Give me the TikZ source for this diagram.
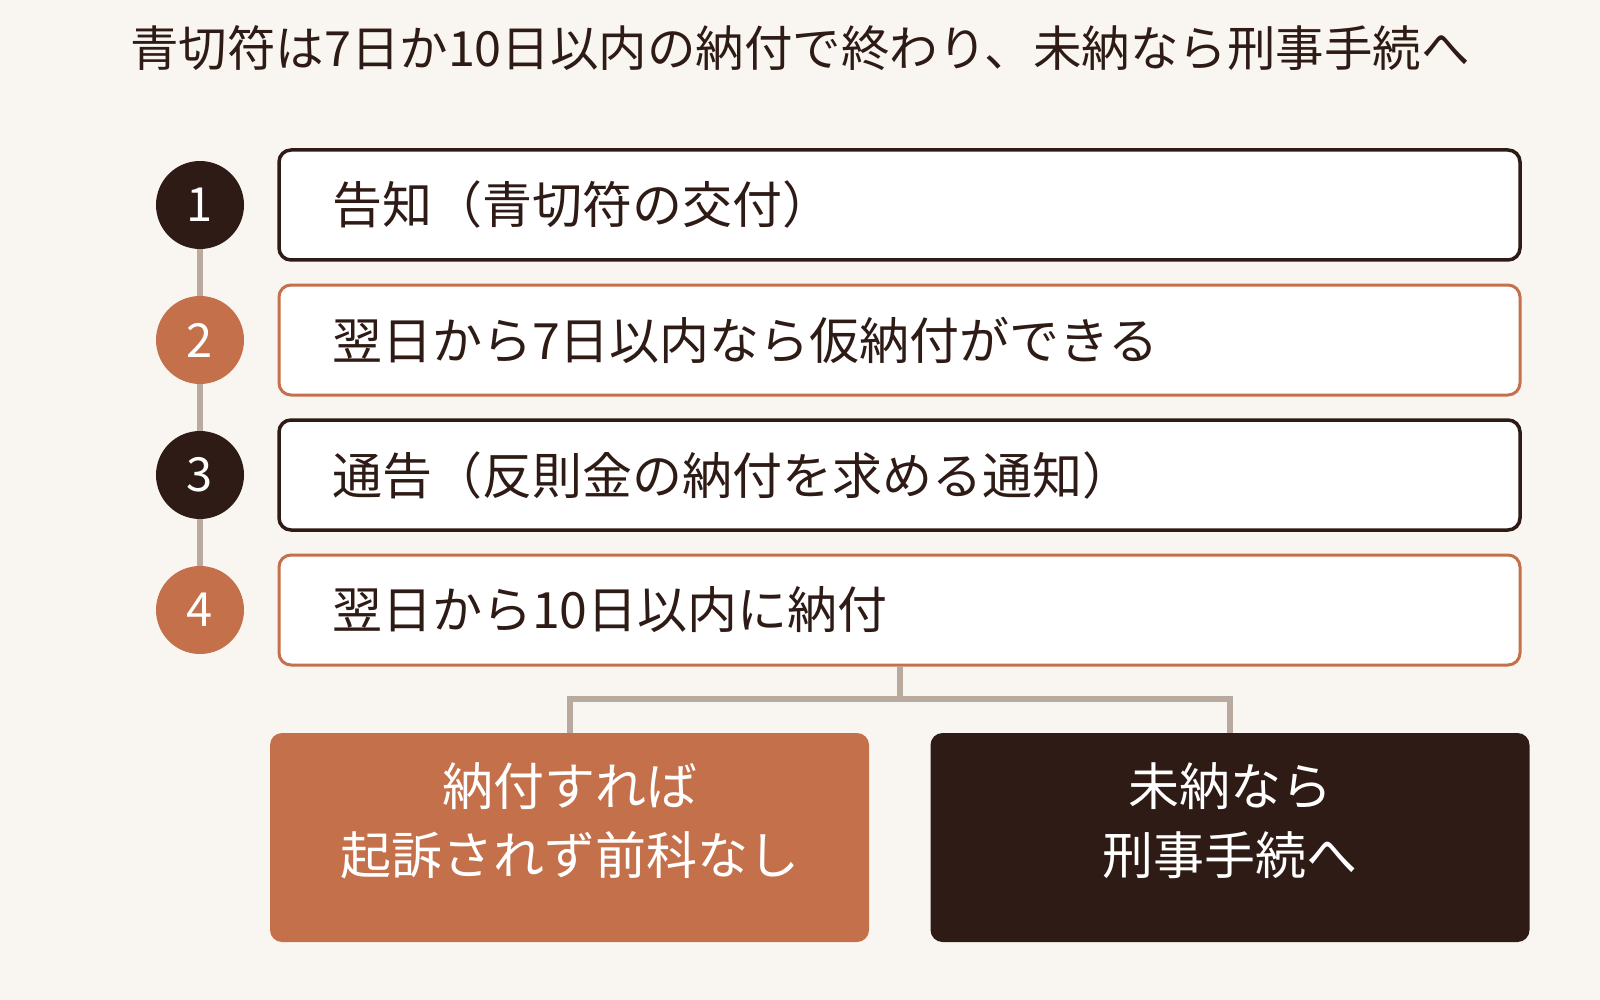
\documentclass[tikz,border=0pt]{standalone}
\usepackage{fontspec}
\setmainfont{Noto Sans CJK JP}
\usepackage{tikz}
\definecolor{bgcream}{HTML}{F9F6F1}
\definecolor{inkdark}{HTML}{2E1B15}
\definecolor{clay}{HTML}{C4704A}
\definecolor{linkgray}{HTML}{B8AA9F}
\tikzset{%
  stepbox/.style    = {shape=rectangle, rounded corners=12pt, draw, fill=white,%
                       line width=3.5pt, minimum width=1241pt, minimum height=110pt,%
                       inner xsep=0pt, text width=1135pt, align=left,%
                       text=inkdark, font=\fontsize{50}{58}\selectfont},%
  darkstep/.style   = {stepbox, draw=inkdark},%
  claystep/.style   = {stepbox, draw=clay, line width=3pt},%
  numdot/.style     = {circle, minimum size=88pt, inner sep=0pt, text=white,%
                       font=\fontsize{47}{50}\selectfont},%
  resultbox/.style  = {shape=rectangle, rounded corners=12pt, minimum width=599pt,%
                       minimum height=209pt},%
  resulttext/.style = {align=center, text=white, inner sep=0pt,%
                       font=\fontsize{51}{69}\selectfont},%
  link/.style       = {draw=linkgray, line width=6pt}%
}
\begin{document}
\begin{tikzpicture}
  [x=1pt,y=-1pt]
  \fill[bgcream] (0,0) rectangle (1600,1000);
  \useasboundingbox (0,0) rectangle (1600,1000);
  \node (title) [text=inkdark, font=\fontsize{48.5}{56}\selectfont] at (800,48)
    {青切符は7日か10日以内の納付で終わり、未納なら刑事手続へ};
  % steps
  \node (n1) [numdot, fill=inkdark] at (200,205) {1};
  \node (n2) [numdot, fill=clay]    at (200,340) {2};
  \node (n3) [numdot, fill=inkdark] at (200,475) {3};
  \node (n4) [numdot, fill=clay]    at (200,610) {4};
  \draw [link] (n1) -- (n2);
  \draw [link] (n2) -- (n3);
  \draw [link] (n3) -- (n4);
  \node (s1) [darkstep] at (899.5,205) {告知（青切符の交付）};
  \node (s2) [claystep] at (899.5,340) {翌日から7日以内なら仮納付ができる};
  \node (s3) [darkstep] at (899.5,475) {通告（反則金の納付を求める通知）};
  \node (s4) [claystep] at (899.5,610) {翌日から10日以内に納付};
  % outcomes
  \node (paid)   [resultbox, fill=clay]    at (569.5,837.5) {};
  \node (unpaid) [resultbox, fill=inkdark] at (1230,837.5)  {};
  \node (paidtext)   [resulttext] at (569.5,821) {納付すれば\\起訴されず前科なし};
  \node (unpaidtext) [resulttext] at (1230,821)  {未納なら\\刑事手続へ};
  \coordinate (split) at (899.5,699);
  \draw [link] (s4.south) -- (split) -| (paid.north);
  \draw [link] (split) -| (unpaid.north);
\end{tikzpicture}
\end{document}
